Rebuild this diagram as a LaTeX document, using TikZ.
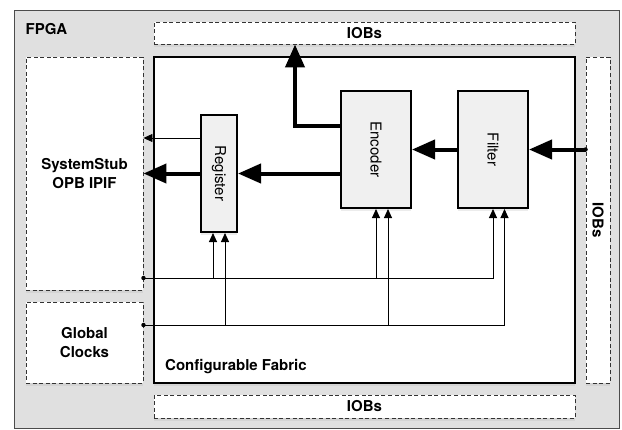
\documentclass[tikz,border=0pt]{standalone}
\usepackage{fontspec}
\setmainfont{TeX Gyre Heros}
\usepackage{graphicx}
\usetikzlibrary{arrows.meta,shadows}

\newcommand{\diagfont}{\fontsize{15}{18.5}\selectfont}

\tikzset{
  fpgabox/.style={draw=black!70, line width=1pt, fill=black!12},
  dashbox/.style={draw=black!80, dash pattern=on 4pt off 2.6pt, line width=0.9pt,
    fill=white, inner sep=0pt, font=\diagfont\bfseries, align=center,
    drop shadow={opacity=0.12, shadow xshift=0pt, shadow yshift=-3pt}},
  fabricbox/.style={draw=black, line width=2.4pt, fill=white, inner sep=0pt,
    drop shadow={opacity=0.12, shadow xshift=0pt, shadow yshift=-3pt}},
  blockbox/.style={draw=black, line width=2pt, fill=black!6, inner sep=0pt,
    minimum width=70pt, minimum height=117pt, font=\diagfont,
    drop shadow={opacity=0.15, shadow xshift=0pt, shadow yshift=-3pt}},
  bigarrow/.style={line width=4pt, -{Triangle[length=23pt,width=19pt]}},
  thinarrow/.style={line width=0.9pt, -{Triangle[length=9pt,width=8pt]}},
  lbl/.style={inner sep=0pt, font=\diagfont\bfseries}
}

\begin{document}
\begin{tikzpicture}[x=1pt,y=-1pt]
  \useasboundingbox (0,0) rectangle (622,429);
  \draw[fpgabox] (14,10) rectangle (619,428.5);
  \node[lbl, anchor=west] (fpgalbl) at (25.5,29) {FPGA};

  % IO blocks round the fabric
  \node[dashbox, minimum width=421pt, minimum height=22pt] (topiob) at (364.5,33) {IOBs};
  \node[dashbox, minimum width=421pt, minimum height=23pt] (botiob) at (364.5,406.5) {IOBs};
  \node[dashbox, minimum width=24pt, minimum height=326pt] (rightiob) at (598,220) {\rotatebox{-90}{IOBs}};
  \node[dashbox, minimum width=117pt, minimum height=233pt] (stub) at (84.5,173.5) {SystemStub\\OPB IPIF};
  \node[dashbox, minimum width=117pt, minimum height=81pt] (clocks) at (84.5,342.5) {Global\\Clocks};

  % fabric and its blocks
  \node[fabricbox, minimum width=421pt, minimum height=326pt] (fabric) at (364.5,220) {};
  \node[lbl, anchor=base west] (fabriclbl) at (165,370) {Configurable Fabric};
  \node[blockbox, minimum width=36pt] (reg) at (219,173.5) {\rotatebox{-90}{Register}};
  \node[blockbox] (enc) at (376,149.5) {\rotatebox{-90}{Encoder}};
  \node[blockbox] (filt) at (493,149.5) {\rotatebox{-90}{Filter}};

  % data path
  \coordinate (iobin) at (rightiob.west |- filt.east);
  \fill (iobin) circle (2.2);
  \draw[bigarrow] (iobin) -- (filt.east);
  \draw[bigarrow] (filt.west) -- (enc.east);
  \draw[bigarrow] (enc.west |- reg.east) -- (reg.east);
  \coordinate (encup) at (295,0);
  \draw[bigarrow] ([yshift=23.5pt]enc.west) -| (encup |- topiob.south);
  \draw[bigarrow] (reg.west) -- (stub.east |- reg.west);
  \coordinate (regout) at ([yshift=35.5pt]reg.west);
  \draw[thinarrow] (regout) -- (stub.east |- regout);

  % control lines
  \coordinate (bus1) at (stub.east |- 0,278);
  \coordinate (bus2) at (clocks.east |- 0,325);
  \fill (bus1) circle (2.2);
  \fill (bus2) circle (2.2);
  \draw[thinarrow] (bus1) -| (filt.south);
  \draw[thinarrow] ([xshift=-6pt]reg.south |- bus1) -- ([xshift=-6pt]reg.south);
  \draw[thinarrow] (enc.south |- bus1) -- (enc.south);
  \draw[thinarrow] (bus2) -| ([xshift=11.5pt]filt.south);
  \draw[thinarrow] ([xshift=6pt]reg.south |- bus2) -- ([xshift=6pt]reg.south);
  \draw[thinarrow] ([xshift=12pt]enc.south |- bus2) -- ([xshift=12pt]enc.south);
\end{tikzpicture}
\end{document}
